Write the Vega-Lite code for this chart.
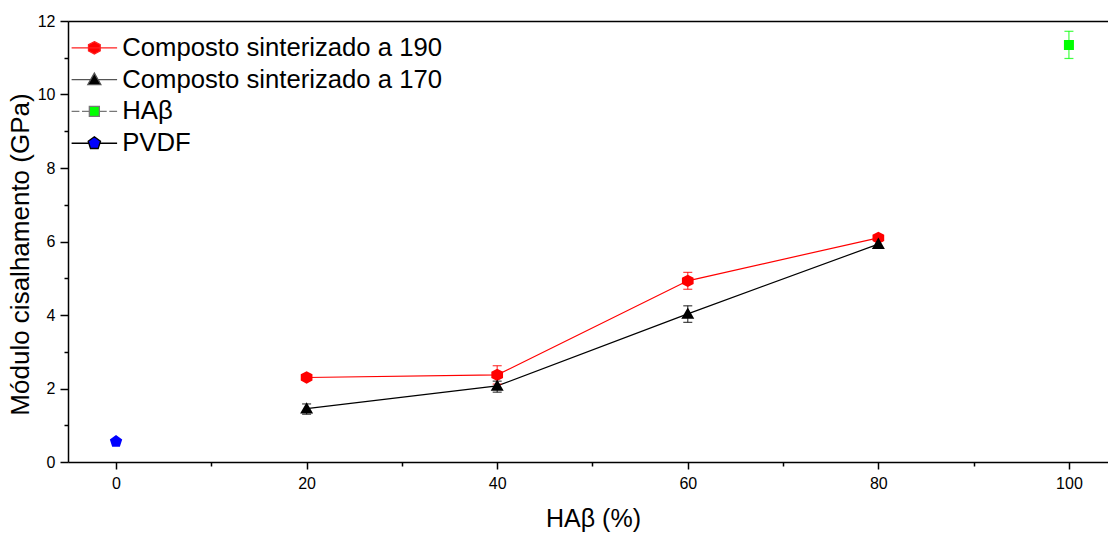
{
  "$schema": "https://vega.github.io/schema/vega-lite/v6.json",
  "autosize": {"type": "none"},
  "padding": {"left": 68, "top": 21, "right": 0, "bottom": 71},
  "width": 1040,
  "height": 441,
  "background": "white",
  "config": {
    "view": {"stroke": null},
    "font": "Liberation Sans",
    "axis": {"grid": false, "domainColor": "#000000", "domainWidth": 1.5, "tickColor": "#000000", "tickWidth": 1.5, "labelColor": "#000000", "labelFont": "Liberation Sans", "labelFontSize": 16, "titleFont": "Liberation Sans", "titleFontSize": 25, "titleFontWeight": "normal", "titleColor": "#000000"},
    "legend": {"orient": "none", "legendX": 13.5, "legendY": 14, "padding": 0, "symbolSize": 169, "symbolStrokeWidth": 1.3, "symbolOpacity": 1, "labelFont": "Liberation Sans", "labelFontSize": 25.7, "labelColor": "#000000", "labelOffset": 15, "labelLimit": 600, "rowPadding": 4.8}
  },
  "data": {"values": [
    {"series": "Composto sinterizado a 190", "x": 20, "y": 2.3, "lo": 2.25, "hi": 2.35},
    {"series": "Composto sinterizado a 190", "x": 40, "y": 2.37, "lo": 2.12, "hi": 2.62},
    {"series": "Composto sinterizado a 190", "x": 60, "y": 4.93, "lo": 4.7, "hi": 5.16},
    {"series": "Composto sinterizado a 190", "x": 80, "y": 6.1, "lo": 6.02, "hi": 6.18},
    {"series": "Composto sinterizado a 170", "x": 20, "y": 1.45, "lo": 1.3, "hi": 1.58},
    {"series": "Composto sinterizado a 170", "x": 40, "y": 2.07, "lo": 1.9, "hi": 2.2},
    {"series": "Composto sinterizado a 170", "x": 60, "y": 4.03, "lo": 3.8, "hi": 4.25},
    {"series": "Composto sinterizado a 170", "x": 80, "y": 5.93, "lo": 5.83, "hi": 6.02},
    {"series": "HAβ", "x": 100, "y": 11.35, "lo": 10.98, "hi": 11.72},
    {"series": "PVDF", "x": 0, "y": 0.56, "lo": 0.53, "hi": 0.59}
  ]},
  "resolve": {"axis": {"x": "independent", "y": "independent"}},
  "layer": [
    {
      "transform": [{"filter": {"field": "series", "oneOf": ["Composto sinterizado a 190", "Composto sinterizado a 170"]}}],
      "mark": {"type": "line", "strokeWidth": 1.2, "opacity": 1},
      "encoding": {
        "x": {"field": "x", "type": "quantitative", "scale": {"domain": [-5.04, 104.1], "nice": false, "zero": false},
              "axis": {"orient": "bottom", "values": [0, 20, 40, 60, 80, 100], "tickSize": 7, "labelPadding": 6, "title": "HAβ (%)", "titlePadding": 15, "titleX": 525}},
        "y": {"field": "y", "type": "quantitative", "scale": {"domain": [0, 12], "nice": false},
              "axis": {"orient": "left", "values": [0, 2, 4, 6, 8, 10, 12], "tickSize": 8, "labelPadding": 5, "title": "Módulo cisalhamento (GPa)", "titlePadding": 4, "titleFontSize": 26, "titleY": 233}},
        "color": {"field": "series", "type": "nominal", "legend": null,
                  "scale": {"domain": ["PVDF", "HAβ", "Composto sinterizado a 170", "Composto sinterizado a 190"], "range": ["#0000ff", "#00ff00", "#000000", "#ff0000"]}}
      }
    },
    {
      "mark": {"type": "rule", "strokeWidth": 1.2, "opacity": 0.75},
      "encoding": {
        "x": {"field": "x", "type": "quantitative",
              "axis": {"orient": "bottom", "values": [10, 30, 50, 70, 90], "tickSize": 4, "labels": false, "domain": false, "title": null}},
        "y": {"field": "lo", "type": "quantitative",
              "axis": {"orient": "left", "values": [1, 3, 5, 7, 9, 11], "tickSize": 4, "labels": false, "domain": false, "title": null}},
        "y2": {"field": "hi"},
        "color": {"field": "series", "type": "nominal", "legend": null}
      }
    },
    {
      "mark": {"type": "tick", "orient": "horizontal", "size": 9, "thickness": 1.2, "opacity": 0.75},
      "encoding": {
        "x": {"field": "x", "type": "quantitative",
              "axis": {"orient": "top", "labels": false, "ticks": false, "title": null}},
        "y": {"field": "lo", "type": "quantitative", "axis": null},
        "color": {"field": "series", "type": "nominal", "legend": null}
      }
    },
    {
      "mark": {"type": "tick", "orient": "horizontal", "size": 9, "thickness": 1.2, "opacity": 0.75},
      "encoding": {
        "x": {"field": "x", "type": "quantitative", "axis": null},
        "y": {"field": "hi", "type": "quantitative", "axis": null},
        "color": {"field": "series", "type": "nominal", "legend": null}
      }
    },
    {
      "transform": [{"filter": "datum.y > 100"}],
      "mark": {"type": "point", "filled": true, "size": 169, "opacity": 1, "strokeWidth": 1.3},
      "encoding": {
        "x": {"field": "x", "type": "quantitative", "axis": null},
        "y": {"field": "y", "type": "quantitative", "axis": null},
        "fill": {"field": "series", "type": "nominal", "title": null,
                 "scale": {"domain": ["Composto sinterizado a 190", "Composto sinterizado a 170", "HAβ", "PVDF"], "range": ["#ff0000", "#000000", "#00ff00", "#0000ff"]}},
        "stroke": {"field": "series", "type": "nominal", "title": null,
                   "scale": {"domain": ["Composto sinterizado a 190", "Composto sinterizado a 170", "HAβ", "PVDF"], "range": ["#ff2020", "#555555", "#777777", "#000000"]}},
        "shape": {"field": "series", "type": "nominal", "title": null,
                  "scale": {"domain": ["Composto sinterizado a 190", "Composto sinterizado a 170", "HAβ", "PVDF"],
                            "range": [
                              "M-3.5,0H3.5M0,-0.95L0.9,-0.48L0.9,0.48L0,0.95L-0.9,0.48L-0.9,-0.48Z",
                              "M-3.5,0H-0.57M0.57,0H3.5M0,-1L1,0.75L-1,0.75Z",
                              "M-3.5,0H-2.3M-1.9,0H-0.77M0.77,0H1.9M2.3,0H3.5M-0.77,-0.77H0.77V0.77H-0.77Z",
                              "M-3.5,0H-0.85M0.85,0H3.5M0,-1L0.95,-0.31L0.59,0.81L-0.59,0.81L-0.95,-0.31Z"
                            ]}}
      }
    },
    {
      "mark": {"type": "point", "filled": true, "size": 169, "opacity": 1},
      "encoding": {
        "x": {"field": "x", "type": "quantitative", "axis": null},
        "y": {"field": "y", "type": "quantitative", "axis": null},
        "color": {"field": "series", "type": "nominal", "legend": null},
        "shape": {"field": "series", "type": "nominal", "title": null}
      }
    }
  ]
}
